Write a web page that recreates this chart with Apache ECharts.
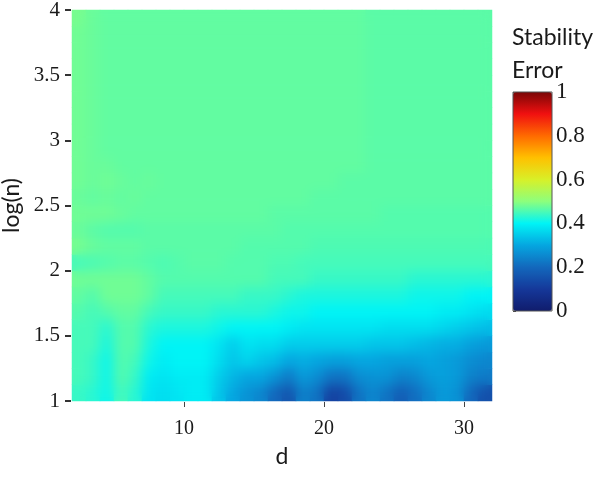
<!DOCTYPE html>
<html>
<head>
<meta charset="utf-8">
<script src="https://cdn.jsdelivr.net/npm/echarts@6/dist/echarts.min.js"></script>
<style>
html,body{margin:0;padding:0;background:#fff;}
#wrap{position:relative;width:596px;height:477px;}
#chart{position:absolute;left:0;top:0;width:596px;height:477px;}
#clip{position:absolute;left:72px;top:10px;width:420px;height:391px;overflow:hidden;pointer-events:none;}
#smooth{position:absolute;left:0;top:0;width:420px;height:391px;filter:blur(6px);}
</style>
</head>
<body>
<div id="wrap">
<div id="chart"></div>
<div id="clip"><div id="smooth"></div></div>
</div>
<script>
// d bins (centers), width 1 from 2 to 32
const dCenters = ['2.5','3.5','4.5','5.5','6.5','7.5','8.5','9.5','10.5','11.5','12.5','13.5','14.5','15.5','16.5','17.5','18.5','19.5','20.5','21.5','22.5','23.5','24.5','25.5','26.5','27.5','28.5','29.5','30.5','31.5'];
// log(n) bins (centers), height 0.125 from 1 to 4 (bottom to top)
const logNCenters = ['1.0625','1.1875','1.3125','1.4375','1.5625','1.6875','1.8125','1.9375','2.0625','2.1875','2.3125','2.4375','2.5625','2.6875','2.8125','2.9375','3.0625','3.1875','3.3125','3.4375','3.5625','3.6875','3.8125','3.9375'];

// Stability error, one row per log(n) bin, bottom (1.0625) to top (3.9375)
const row1_06 = [0.44,0.43,0.41,0.45,0.43,0.38,0.37,0.38,0.39,0.39,0.34,0.30,0.27,0.25,0.20,0.16,0.24,0.22,0.12,0.14,0.22,0.25,0.22,0.18,0.21,0.25,0.28,0.27,0.20,0.15];
const row1_19 = [0.45,0.44,0.41,0.46,0.44,0.39,0.38,0.39,0.39,0.39,0.35,0.32,0.30,0.30,0.27,0.23,0.28,0.26,0.22,0.22,0.26,0.27,0.27,0.24,0.25,0.28,0.29,0.28,0.24,0.23];
const row1_31 = [0.45,0.44,0.41,0.46,0.45,0.41,0.39,0.40,0.40,0.40,0.37,0.34,0.36,0.34,0.33,0.30,0.31,0.30,0.29,0.29,0.30,0.30,0.29,0.29,0.29,0.30,0.29,0.28,0.26,0.25];
const row1_44 = [0.45,0.45,0.42,0.46,0.46,0.42,0.40,0.40,0.40,0.40,0.38,0.35,0.38,0.37,0.37,0.35,0.35,0.35,0.35,0.35,0.35,0.34,0.34,0.34,0.33,0.32,0.31,0.31,0.29,0.28];
const row1_56 = [0.45,0.45,0.43,0.46,0.46,0.43,0.42,0.42,0.42,0.42,0.41,0.40,0.40,0.40,0.40,0.39,0.38,0.38,0.38,0.38,0.38,0.38,0.37,0.37,0.37,0.37,0.36,0.35,0.34,0.33];
const row1_69 = [0.46,0.45,0.46,0.47,0.47,0.45,0.44,0.44,0.44,0.44,0.43,0.43,0.43,0.43,0.42,0.41,0.41,0.40,0.40,0.40,0.40,0.40,0.40,0.40,0.40,0.40,0.39,0.39,0.38,0.37];
const row1_81 = [0.47,0.46,0.48,0.48,0.48,0.47,0.45,0.45,0.45,0.45,0.45,0.45,0.44,0.44,0.44,0.43,0.42,0.42,0.42,0.42,0.42,0.42,0.42,0.42,0.41,0.41,0.41,0.41,0.40,0.40];
const row1_94 = [0.48,0.48,0.48,0.48,0.48,0.47,0.46,0.46,0.46,0.46,0.46,0.46,0.46,0.46,0.45,0.45,0.45,0.44,0.44,0.44,0.44,0.44,0.44,0.44,0.43,0.43,0.43,0.43,0.43,0.43];
const row2_06 = [0.45,0.455,0.46,0.465,0.465,0.46,0.455,0.46,0.465,0.465,0.465,0.46,0.46,0.46,0.455,0.455,0.45,0.45,0.45,0.45,0.45,0.45,0.45,0.45,0.45,0.45,0.45,0.45,0.45,0.45];
const row2_19 = [0.485,0.475,0.47,0.47,0.47,0.465,0.465,0.465,0.465,0.465,0.465,0.465,0.46,0.46,0.46,0.46,0.46,0.455,0.455,0.455,0.455,0.455,0.455,0.455,0.455,0.455,0.455,0.455,0.455,0.455];
const row2_31 = [0.475,0.465,0.46,0.46,0.46,0.465,0.465,0.465,0.465,0.465,0.465,0.465,0.465,0.465,0.465,0.46,0.46,0.46,0.46,0.46,0.46,0.46,0.46,0.46,0.46,0.46,0.46,0.46,0.46,0.46];
const row2_44 = [0.48,0.48,0.48,0.475,0.47,0.47,0.47,0.47,0.47,0.47,0.47,0.47,0.47,0.47,0.465,0.465,0.465,0.465,0.465,0.465,0.465,0.465,0.46,0.46,0.46,0.46,0.46,0.46,0.46,0.46];
const row2_56 = [0.475,0.47,0.475,0.47,0.475,0.47,0.47,0.47,0.47,0.47,0.47,0.47,0.47,0.47,0.47,0.47,0.47,0.465,0.465,0.465,0.465,0.465,0.465,0.465,0.465,0.465,0.465,0.465,0.465,0.465];
const row2_69 = [0.48,0.475,0.48,0.475,0.47,0.475,0.47,0.47,0.47,0.47,0.47,0.47,0.47,0.47,0.47,0.47,0.47,0.47,0.47,0.465,0.465,0.465,0.465,0.465,0.465,0.465,0.465,0.465,0.465,0.465];
const row2_81 = [0.48,0.475,0.475,0.47,0.47,0.47,0.47,0.47,0.47,0.47,0.47,0.47,0.47,0.47,0.47,0.47,0.47,0.47,0.47,0.47,0.47,0.465,0.465,0.465,0.465,0.465,0.465,0.465,0.465,0.465];
const row2_94 = [0.48,0.475,0.47,0.47,0.47,0.47,0.47,0.47,0.47,0.47,0.47,0.47,0.47,0.47,0.47,0.47,0.47,0.47,0.47,0.47,0.47,0.465,0.465,0.465,0.465,0.465,0.465,0.465,0.465,0.465];
const row3_06 = [0.48,0.475,0.47,0.47,0.47,0.47,0.47,0.47,0.47,0.47,0.47,0.47,0.47,0.47,0.47,0.47,0.47,0.47,0.47,0.47,0.47,0.465,0.465,0.465,0.465,0.465,0.465,0.465,0.465,0.465];
const row3_19 = [0.48,0.475,0.47,0.47,0.47,0.47,0.47,0.47,0.47,0.47,0.47,0.47,0.47,0.47,0.47,0.47,0.47,0.47,0.47,0.47,0.47,0.465,0.465,0.465,0.465,0.465,0.465,0.465,0.465,0.465];
const row3_31 = [0.48,0.475,0.47,0.47,0.47,0.47,0.47,0.47,0.47,0.47,0.47,0.47,0.47,0.47,0.47,0.47,0.47,0.47,0.47,0.47,0.47,0.465,0.465,0.465,0.465,0.465,0.465,0.465,0.465,0.465];
const row3_44 = [0.48,0.475,0.47,0.47,0.47,0.47,0.47,0.47,0.47,0.47,0.47,0.47,0.47,0.47,0.47,0.47,0.47,0.47,0.47,0.47,0.47,0.465,0.465,0.465,0.465,0.465,0.465,0.465,0.465,0.465];
const row3_56 = [0.48,0.475,0.47,0.47,0.47,0.47,0.47,0.47,0.47,0.47,0.47,0.47,0.47,0.47,0.47,0.47,0.47,0.47,0.47,0.47,0.47,0.465,0.465,0.465,0.465,0.465,0.465,0.465,0.465,0.465];
const row3_69 = [0.48,0.475,0.47,0.47,0.47,0.47,0.47,0.47,0.47,0.47,0.47,0.47,0.47,0.47,0.47,0.47,0.47,0.47,0.47,0.47,0.47,0.465,0.465,0.465,0.465,0.465,0.465,0.465,0.465,0.465];
const row3_81 = [0.48,0.475,0.47,0.47,0.47,0.47,0.47,0.47,0.47,0.47,0.47,0.47,0.47,0.47,0.47,0.47,0.47,0.47,0.47,0.47,0.47,0.465,0.465,0.465,0.465,0.465,0.465,0.465,0.465,0.465];
const row3_94 = [0.485,0.475,0.47,0.47,0.47,0.47,0.47,0.47,0.47,0.47,0.47,0.47,0.47,0.47,0.47,0.47,0.47,0.47,0.47,0.47,0.47,0.465,0.465,0.465,0.465,0.465,0.465,0.465,0.465,0.465];

const xTickValues = [10, 20, 30];
const colorbarColors = ['#101c6c','#15389a','#1368bc','#05a6e0','#00f4f6','#8cff7d','#d8f028','#ffc000','#ff6a00','#f01010','#7a0606'];

const rows = [row1_06,row1_19,row1_31,row1_44,row1_56,row1_69,row1_81,row1_94,row2_06,row2_19,row2_31,row2_44,row2_56,row2_69,row2_81,row2_94,row3_06,row3_19,row3_31,row3_44,row3_56,row3_69,row3_81,row3_94];
const heatData = [];
rows.forEach((r, j) => r.forEach((v, i) => heatData.push([i, j, v])));

const serif = 'Liberation Serif';
const sans = 'Lato';
const ink = '#1a1a1a';

const chart = echarts.init(document.getElementById('chart'), null, {renderer: 'canvas'});
chart.setOption({
  animation: false,
  backgroundColor: '#fff',
  title: {
    text: 'Stability\nError',
    left: 512, top: 21, padding: 0,
    textStyle: {fontFamily: sans, fontSize: 23, fontWeight: 'normal', color: ink, lineHeight: 33}
  },
  grid: [
    {left: 72, top: 10, width: 420, height: 391, containLabel: false, outerBoundsMode: 'none'},
    {left: 513, top: 92, width: 39, height: 219, show: true, borderColor: '#555', borderWidth: 1, backgroundColor: 'transparent', z: 10, outerBoundsMode: 'none'}
  ],
  xAxis: [
    {type: 'category', gridIndex: 0, data: dCenters, position: 'top', show: false, boundaryGap: true},
    {type: 'value', gridIndex: 0, position: 'bottom', min: 2, max: 32, offset: 1,
      axisLine: {show: false},
      axisTick: {show: true, length: 5, customValues: xTickValues, lineStyle: {color: '#444', width: 1}},
      axisLabel: {customValues: xTickValues, margin: 17, fontFamily: serif, fontSize: 20, color: ink},
      splitLine: {show: false},
      name: 'd', nameLocation: 'middle', nameGap: 43,
      nameTextStyle: {fontFamily: sans, fontSize: 23, color: ink}
    },
    {type: 'value', gridIndex: 1, min: 0, max: 1, show: false}
  ],
  yAxis: [
    {type: 'category', gridIndex: 0, data: logNCenters, position: 'right', show: false, boundaryGap: true},
    {type: 'value', gridIndex: 0, position: 'left', min: 1, max: 4, interval: 0.5, offset: 1,
      axisLine: {show: false},
      axisTick: {show: true, length: 6, lineStyle: {color: '#333', width: 2}},
      axisLabel: {margin: 11, fontFamily: serif, fontSize: 21, color: ink},
      splitLine: {show: false},
      name: 'log(n)', nameLocation: 'middle', nameGap: 48, nameRotate: 90,
      nameTextStyle: {fontFamily: sans, fontSize: 23, color: ink}
    },
    {type: 'value', gridIndex: 1, position: 'right', min: 0, max: 1, interval: 0.2,
      axisLine: {show: false},
      axisTick: {show: true, length: 3, lineStyle: {color: '#444'}},
      axisLabel: {margin: 4, fontFamily: serif, fontSize: 23, color: ink},
      splitLine: {show: false}
    }
  ],
  visualMap: {
    type: 'continuous', seriesIndex: 0, min: 0, max: 1,
    calculable: false, realtime: false, show: true,
    left: 513, top: 92, padding: 0, itemWidth: 39, itemHeight: 219,
    text: null, showLabel: false,
    inRange: {color: colorbarColors}
  },
  series: [{
    type: 'heatmap', xAxisIndex: 0, yAxisIndex: 0,
    data: heatData,
    itemStyle: {borderWidth: 0},
    emphasis: {disabled: true},
    progressive: 0
  }]
});

// the same heatmap again, drawn over the plot area and softened so the surface looks continuous
const smooth = echarts.init(document.getElementById('smooth'), null, {renderer: 'canvas'});
smooth.setOption({
  animation: false,
  grid: {left: 0, top: 0, right: 0, bottom: 0, containLabel: false, outerBoundsMode: 'none'},
  xAxis: {type: 'category', data: dCenters, show: false, boundaryGap: true},
  yAxis: {type: 'category', data: logNCenters, show: false, boundaryGap: true},
  visualMap: {type: 'continuous', min: 0, max: 1, show: false, inRange: {color: colorbarColors}},
  series: [{
    type: 'heatmap', data: heatData,
    itemStyle: {borderWidth: 0},
    emphasis: {disabled: true},
    progressive: 0
  }]
});
</script>
</body>
</html>
